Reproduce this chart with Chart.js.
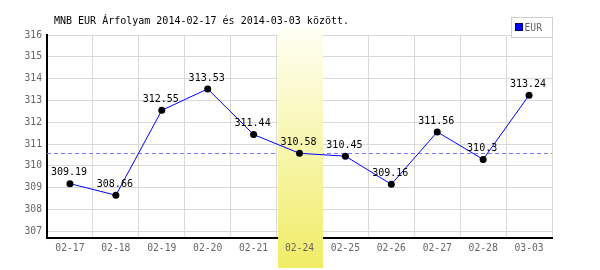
<!DOCTYPE html>
<html>
<head>
<meta charset="utf-8">
<script src="https://cdn.jsdelivr.net/npm/chart.js@4"></script>
<style>
body { margin: 0; background: #fff; }
canvas { display: block; }
</style>
</head>
<body>
<canvas id="chart" width="600" height="270"></canvas>
<script>
const labels = ["02-17", "02-18", "02-19", "02-20", "02-21", "02-24", "02-25", "02-26", "02-27", "02-28", "03-03"];
const eurValues = [309.19, 308.66, 312.55, 313.53, 311.44, 310.58, 310.45, 309.16, 311.56, 310.3, 313.24];
const yTicks = [307, 308, 309, 310, 311, 312, 313, 314, 315, 316];
const highlightIndex = 5;
const refValue = 310.58;
const titleText = "MNB EUR Árfolyam 2014-02-17 és 2014-03-03 között.";
const legendLabel = "EUR";

const monoFont = "DejaVu Sans Mono";

const decorPlugin = {
    id: "decor",
    beforeDatasetsDraw(chart) {
        const ctx = chart.ctx;
        const x = chart.scales.x;
        const y = chart.scales.y;
        const area = chart.chartArea;

        // dashed line at the highlighted day's rate
        ctx.save();
        ctx.strokeStyle = "#7b7bff";
        ctx.lineWidth = 1;
        ctx.setLineDash([4, 3]);
        const yy = Math.round(y.getPixelForValue(refValue)) + 0.5;
        ctx.beginPath();
        ctx.moveTo(area.left, yy);
        ctx.lineTo(area.right, yy);
        ctx.stroke();
        ctx.setLineDash([]);

        // yellow band behind the highlighted day
        const half = (x.getPixelForValue(1) - x.getPixelForValue(0)) / 2;
        const cx = x.getPixelForValue(highlightIndex);
        const grad = ctx.createLinearGradient(0, 28, 0, 268);
        grad.addColorStop(0, "#fffff4");
        grad.addColorStop(1, "#f0ec66");
        ctx.fillStyle = grad;
        ctx.fillRect(Math.round(cx - half) + 1, 28, Math.round(2 * half) - 1, 240);
        ctx.restore();
    },
    afterDatasetsDraw(chart) {
        const ctx = chart.ctx;
        const meta = chart.getDatasetMeta(0);
        ctx.save();
        ctx.font = "10px '" + monoFont + "'";
        ctx.fillStyle = "#000";
        ctx.textAlign = "center";
        ctx.textBaseline = "middle";
        meta.data.forEach((pt, i) => {
            ctx.fillText(String(eurValues[i]), pt.x - 1, pt.y - 11);
        });
        ctx.restore();
    },
    afterDraw(chart) {
        const ctx = chart.ctx;
        ctx.save();
        ctx.font = "10px '" + monoFont + "'";
        ctx.textBaseline = "middle";

        // title
        ctx.fillStyle = "#000";
        ctx.textAlign = "left";
        ctx.fillText(titleText, 54, 21);

        // legend box
        ctx.fillStyle = "#fff";
        ctx.fillRect(511.5, 17.5, 41, 20);
        ctx.strokeStyle = "#d0d0d0";
        ctx.lineWidth = 1;
        ctx.strokeRect(511.5, 17.5, 41, 20);
        ctx.fillStyle = "#0000ff";
        ctx.fillRect(516, 24, 6, 6);
        ctx.strokeStyle = "#000066";
        ctx.strokeRect(515.5, 23.5, 7, 7);
        ctx.font = "9.7px '" + monoFont + "'";
        ctx.fillStyle = "#666";
        ctx.fillText(legendLabel, 524.5, 28.5);
        ctx.restore();
    }
};

new Chart(document.getElementById("chart").getContext("2d"), {
    type: "line",
    data: {
        labels,
        datasets: [{
            label: legendLabel,
            data: eurValues,
            borderColor: "#0000ff",
            borderWidth: 1,
            pointBackgroundColor: "#000",
            pointBorderWidth: 0,
            pointRadius: 3.5,
            tension: 0
        }]
    },
    options: {
        responsive: false,
        animation: false,
        layout: { padding: { top: 35, right: 48, left: 0, bottom: 0 } },
        plugins: {
            legend: { display: false },
            title: { display: false },
            tooltip: { enabled: false }
        },
        scales: {
            x: {
                offset: true,
                grid: { offset: true, color: "#d9d9d9", drawTicks: false },
                border: { color: "#000", width: 2 },
                ticks: {
                    z: 1,
                    color: "#666",
                    padding: 5,
                    maxRotation: 0,
                    font: { family: monoFont, size: 9.7 }
                },
                afterFit(scale) { scale.height = 32; }
            },
            y: {
                min: 306.7,
                max: 316,
                grid: { color: "#d9d9d9", drawTicks: false },
                border: { color: "#000", width: 2 },
                ticks: {
                    color: "#666",
                    padding: 5,
                    font: { family: monoFont, size: 9.7 }
                },
                afterBuildTicks(scale) {
                    scale.ticks = yTicks.map(v => ({ value: v }));
                },
                afterFit(scale) { scale.width = 47; }
            }
        }
    },
    plugins: [decorPlugin]
});
</script>
</body>
</html>
